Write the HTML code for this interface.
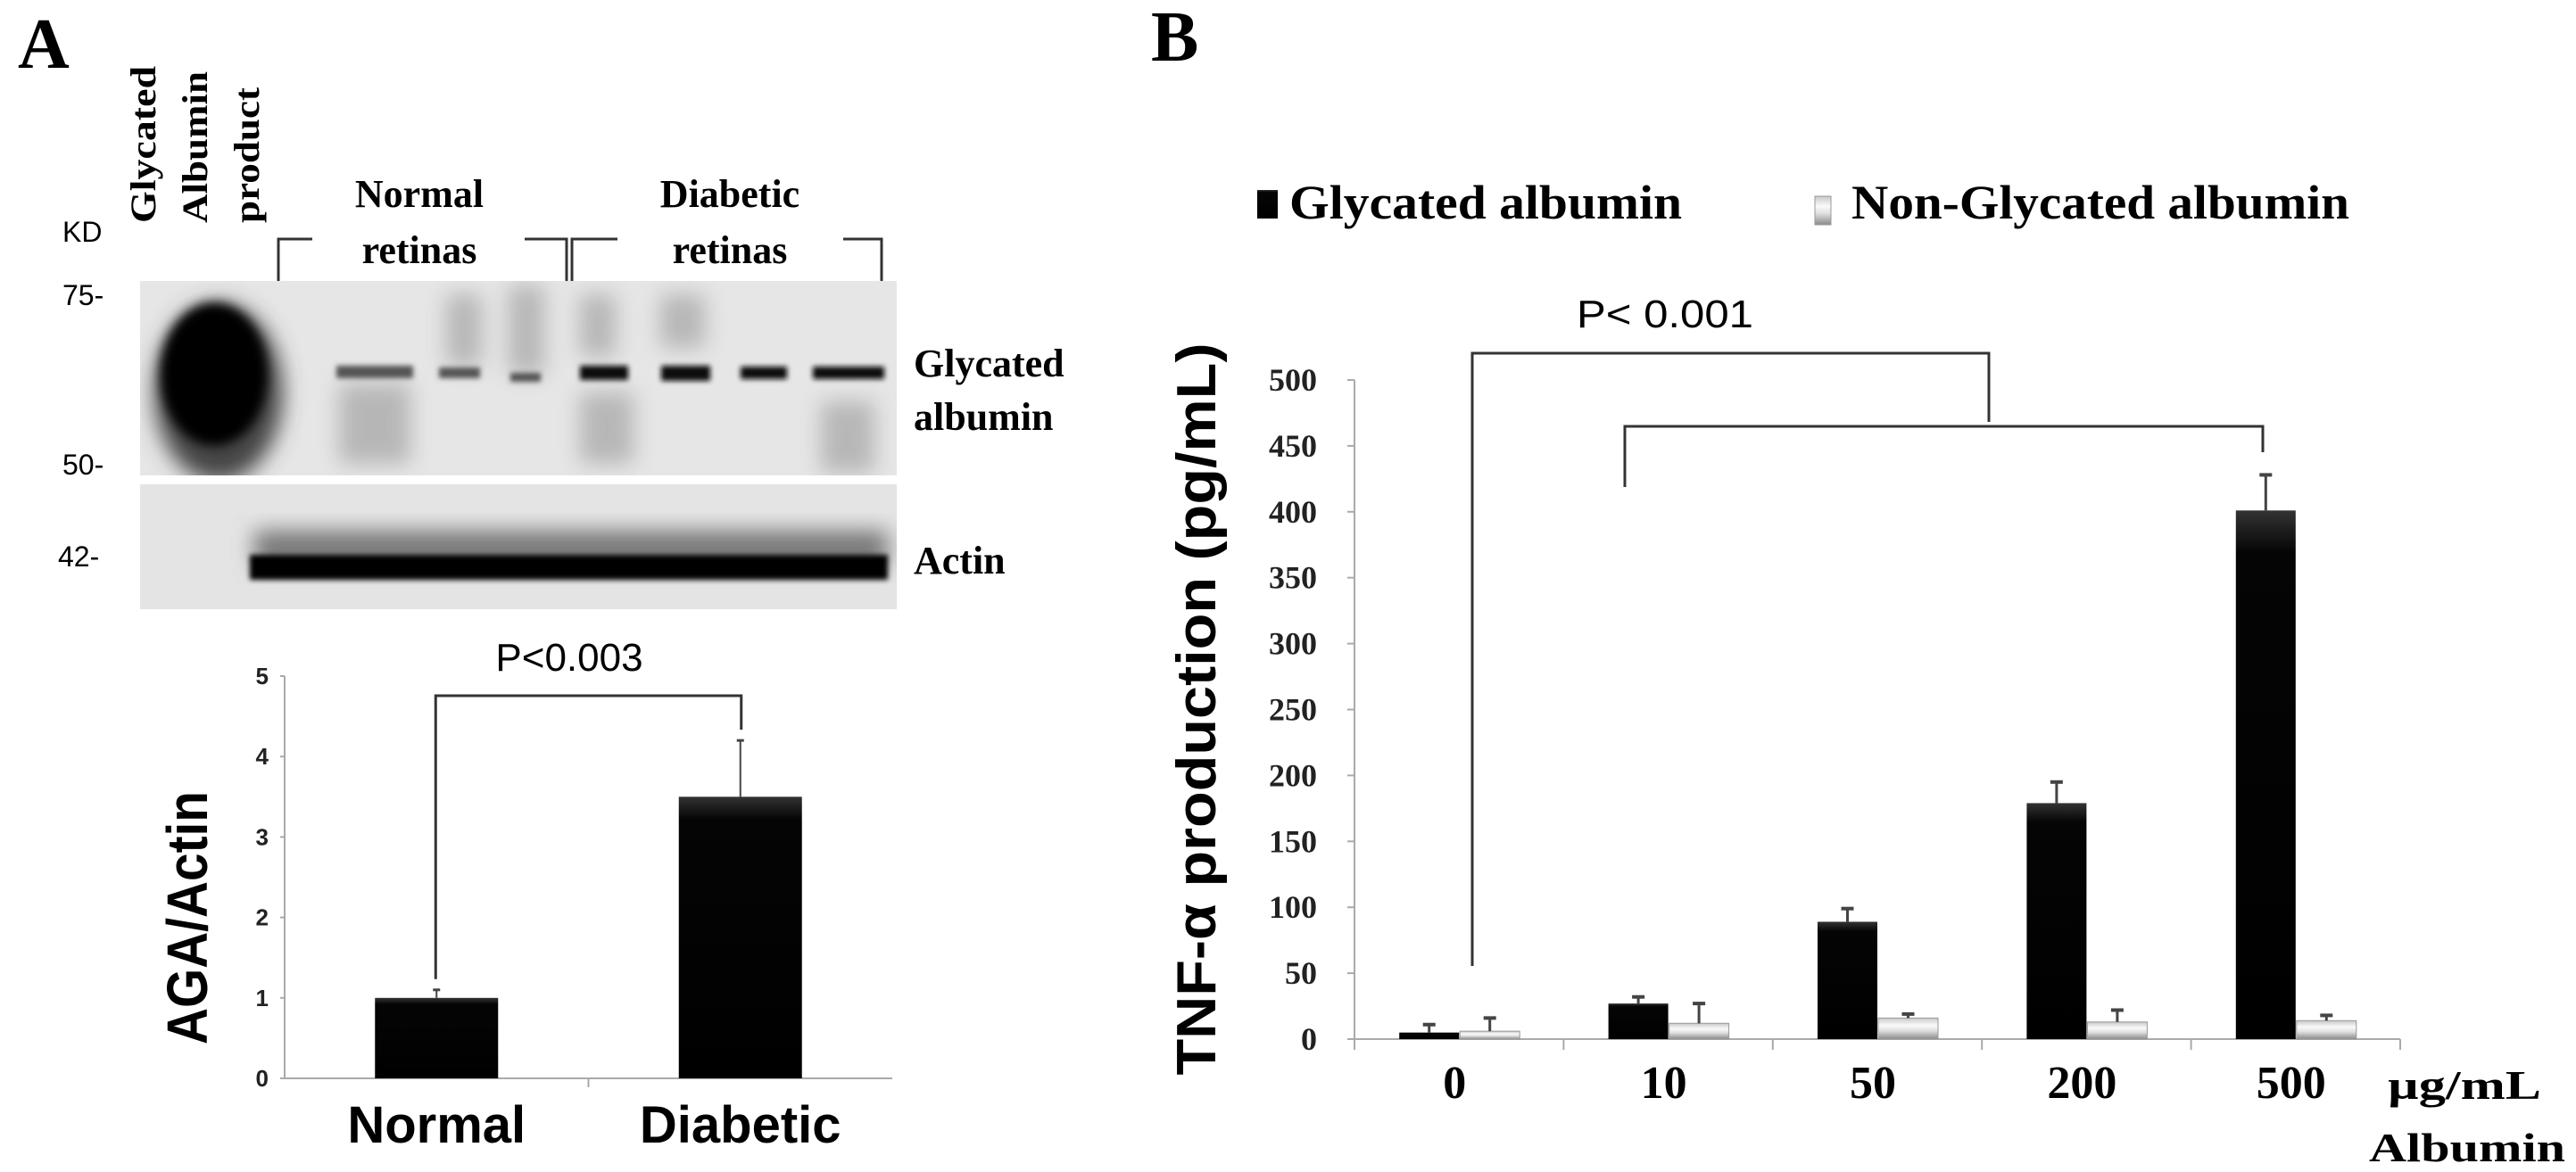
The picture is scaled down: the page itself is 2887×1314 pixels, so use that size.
<!DOCTYPE html>
<html><head><meta charset="utf-8"><style>
html,body{margin:0;padding:0;background:#fff;}
svg{display:block;}
</style></head><body>
<svg id="fig" width="2887" height="1314" viewBox="0 0 2887 1314" xmlns="http://www.w3.org/2000/svg">
<defs>
<filter id="b6" x="-50%" y="-50%" width="200%" height="200%"><feGaussianBlur stdDeviation="6"/></filter>
<filter id="b12" x="-50%" y="-50%" width="200%" height="200%"><feGaussianBlur stdDeviation="12"/></filter>
<filter id="b3" x="-50%" y="-50%" width="200%" height="200%"><feGaussianBlur stdDeviation="3"/></filter>
<linearGradient id="blk" x1="0" y1="0" x2="0" y2="1"><stop offset="0" stop-color="#333"/><stop offset="0.08" stop-color="#050505"/><stop offset="1" stop-color="#000"/></linearGradient>
<linearGradient id="wht" x1="0" y1="0" x2="0" y2="1"><stop offset="0" stop-color="#c8c8c8"/><stop offset="0.35" stop-color="#fafafa"/><stop offset="0.6" stop-color="#e0e0e0"/><stop offset="1" stop-color="#8a8a8a"/></linearGradient>
<clipPath id="gelclip"><rect x="157" y="315" width="848" height="218"/></clipPath>
<clipPath id="actclip"><rect x="157" y="543" width="848" height="140"/></clipPath>
</defs>

<!-- Panel A labels -->
<text x="20" y="76" font-family="Liberation Serif, serif" font-weight="bold" font-size="80">A</text>
<g font-family="Liberation Serif, serif" font-weight="bold" font-size="40">
<text transform="translate(174,250) rotate(-90)" textLength="176" lengthAdjust="spacingAndGlyphs">Glycated</text>
<text transform="translate(232,250) rotate(-90)" textLength="170" lengthAdjust="spacingAndGlyphs">Albumin</text>
<text transform="translate(290,250) rotate(-90)" textLength="152" lengthAdjust="spacingAndGlyphs">product</text>
</g>
<g font-family="Liberation Sans, sans-serif" font-size="32">
<text x="70" y="271">KD</text>
<text x="70" y="342">75-</text>
<text x="70" y="532">50-</text>
<text x="65" y="635">42-</text>
</g>
<g font-family="Liberation Serif, serif" font-weight="bold" font-size="44" text-anchor="middle">
<text x="470" y="232">Normal</text>
<text x="470" y="295">retinas</text>
<text x="818" y="232">Diabetic</text>
<text x="818" y="295">retinas</text>
</g>
<g fill="none" stroke="#333" stroke-width="3">
<polyline points="312,315 312,268 350,268"/>
<polyline points="588,268 635,268 635,315"/>
<polyline points="641,315 641,268 692,268"/>
<polyline points="945,268 988,268 988,315"/>
</g>
<!-- gel -->
<g>
<rect x="157" y="315" width="848" height="218" fill="#e6e6e6"/>
<g clip-path="url(#gelclip)">
<ellipse cx="245" cy="440" rx="72" ry="100" fill="#444" filter="url(#b12)"/>
<ellipse cx="240" cy="420" rx="60" ry="80" fill="#000" filter="url(#b6)"/>
<g fill="#888" opacity="0.5" filter="url(#b12)">
<rect x="380" y="430" width="80" height="90"/><rect x="500" y="330" width="40" height="80"/><rect x="570" y="320" width="40" height="100"/>
<rect x="650" y="330" width="40" height="70"/><rect x="650" y="440" width="60" height="80"/><rect x="740" y="330" width="50" height="60"/><rect x="920" y="450" width="60" height="80"/>
</g>
<g fill="#111" filter="url(#b3)">
<rect x="650" y="410" width="54" height="16"/><rect x="741" y="410" width="55" height="17"/><rect x="830" y="411" width="52" height="14"/><rect x="911" y="411" width="80" height="14"/>
</g>
<g fill="#555" filter="url(#b3)">
<rect x="377" y="410" width="86" height="14"/><rect x="492" y="412" width="46" height="12"/><rect x="572" y="418" width="34" height="10"/>
</g>
</g>
</g>
<g>
<rect x="157" y="543" width="848" height="140" fill="#e4e4e4"/>
<g clip-path="url(#actclip)">
<rect x="285" y="595" width="710" height="40" fill="#777" filter="url(#b12)"/>
<rect x="280" y="622" width="715" height="28" fill="#000" filter="url(#b3)"/>
</g>
</g>
<g font-family="Liberation Serif, serif" font-weight="bold" font-size="44">
<text x="1024" y="422">Glycated</text>
<text x="1024" y="482">albumin</text>
<text x="1024" y="643">Actin</text>
</g>

<g id="chartA"></g>
<g id="chartB"></g>
</svg>
<script>
var NS='http://www.w3.org/2000/svg';
// Chart A data
var aCategories=['Normal','Diabetic'];
var aValues=[1.0,3.5];
var aErrors=[0.1,0.7];
var aTicks=[0,1,2,3,4,5];
// Chart B data
var bCategories=['0','10','50','200','500'];
var bGlycated=[5,27,89,179,401];
var bGlycatedErr=[6,5,10,16,27];
var bNonGlycated=[6,12,16,13,14];
var bNonGlycatedErr=[10,15,3,9,4];
var bTicks=[0,50,100,150,200,250,300,350,400,450,500];

function mk(tag,attrs,parent,txt){var e=document.createElementNS(NS,tag);for(var k in attrs)e.setAttribute(k,attrs[k]);if(txt!==undefined)e.textContent=txt;parent.appendChild(e);return e;}

// ---- Chart A
(function(){
var g=document.getElementById('chartA');
var x0=319,x1=1000,y0=1209,yTop=758,ymax=5;
function ay(v){return y0-(v/ymax)*(y0-yTop);}
var cw=(x1-x0)/aCategories.length;
function ax(i){return x0+cw*(i+0.5);}
var axl=mk('line',{x1:x0,y1:yTop,x2:x0,y2:y0,stroke:'#aaa','stroke-width':2},g);


var xl=mk('line',{x1:x0-4,y1:y0,x2:x1,y2:y0,stroke:'#aaa','stroke-width':2},g);


mk('line',{x1:x0+cw,y1:y0,x2:x0+cw,y2:y0+10,stroke:'#aaa','stroke-width':2},g);
aTicks.forEach(function(t){
 mk('line',{x1:x0-5,y1:ay(t),x2:x0,y2:ay(t),stroke:'#aaa','stroke-width':2},g);
 var tx=mk('text',{x:x0-18,y:ay(t)+9,'text-anchor':'end','font-family':'Liberation Sans, sans-serif','font-weight':'bold','font-size':26,fill:'#222'},g,String(t));
 
 
});
var bw=138;
aCategories.forEach(function(c,i){
 var cx=ax(i)-(i===0?0:0);
 var r=mk('rect',{x:cx-bw/2,y:ay(aValues[i]),width:bw,height:y0-ay(aValues[i]),fill:'url(#blk)'},g);
 
 
 var top=ay(aValues[i]+aErrors[i]);
 var e=mk('line',{x1:cx,y1:ay(aValues[i]),x2:cx,y2:top,stroke:'#444','stroke-width':2},g);
 
 
 mk('line',{x1:cx-4,y1:top,x2:cx+4,y2:top,stroke:'#444','stroke-width':3},g);
 var lb=mk('text',{x:cx,y:1281,'text-anchor':'middle','font-family':'Liberation Sans, sans-serif','font-weight':'bold','font-size':58},g,c);
 
 
});
// significance bracket
var lx=ax(0)-1, rx=ax(1)+1, by=780;
var br=mk('polyline',{points:lx+','+(ay(aValues[0]+aErrors[0])-12)+' '+lx+','+by+' '+rx+','+by+' '+rx+','+(ay(aValues[1]+aErrors[1])-12),fill:'none',stroke:'#333','stroke-width':3},g);


var pt=mk('text',{x:638,y:752,'text-anchor':'middle','font-family':'Liberation Sans, sans-serif','font-size':44},g,'P<0.003');


var yt=mk('text',{transform:'translate(232,1029) rotate(-90)','text-anchor':'middle','font-family':'Liberation Sans, sans-serif','font-weight':'bold','font-size':64,textLength:284,lengthAdjust:'spacingAndGlyphs'},g,'AGA/Actin');


})();

// ---- Chart B
(function(){
var g=document.getElementById('chartB');
var x0=1518,x1=2690,y0=1165,yTop=426,ymax=500;
function by(v){return y0-(v/ymax)*(y0-yTop);}
var cw=(x1-x0)/bCategories.length;
function bx(i){return x0+cw*(i+0.5);}
var yl=mk('line',{x1:x0,y1:yTop,x2:x0,y2:y0,stroke:'#aaa','stroke-width':2},g);


var xl=mk('line',{x1:x0-8,y1:y0,x2:x1,y2:y0,stroke:'#aaa','stroke-width':2},g);


for(var k=0;k<=bCategories.length;k++){mk('line',{x1:x0+cw*k,y1:y0,x2:x0+cw*k,y2:y0+12,stroke:'#aaa','stroke-width':2},g);}
bTicks.forEach(function(t){
 mk('line',{x1:x0-8,y1:by(t),x2:x0,y2:by(t),stroke:'#aaa','stroke-width':2},g);
 var tx=mk('text',{x:1476,y:by(t)+12,'text-anchor':'end','font-family':'Liberation Serif, serif','font-weight':'bold','font-size':36,fill:'#222'},g,String(t));
 
 
});
var bw=67;
bCategories.forEach(function(c,i){
 var cx=bx(i);
 var r1=mk('rect',{x:cx-bw,y:by(bGlycated[i]),width:bw,height:y0-by(bGlycated[i]),fill:'url(#blk)'},g);
 
 
 var r2=mk('rect',{x:cx+1,y:by(bNonGlycated[i]),width:bw,height:y0-by(bNonGlycated[i]),fill:'url(#wht)',stroke:'#999','stroke-width':1},g);
 
 
 [[cx-bw/2,bGlycated[i],bGlycatedErr[i]],[cx+1+bw/2,bNonGlycated[i],bNonGlycatedErr[i]]].forEach(function(d){
  var t=by(d[1]+d[2]);
  var e=mk('line',{x1:d[0],y1:by(d[1]),x2:d[0],y2:t,stroke:'#444','stroke-width':3},g);
  
  
  mk('line',{x1:d[0]-7,y1:t,x2:d[0]+7,y2:t,stroke:'#444','stroke-width':4},g);
 });
 var lb=mk('text',{x:cx-5,y:1231,'text-anchor':'middle','font-family':'Liberation Serif, serif','font-weight':'bold','font-size':52},g,c);
 
 
});
var u=mk('text',{x:2676,y:1232,'font-family':'Liberation Serif, serif','font-weight':'bold','font-size':46,textLength:172,lengthAdjust:'spacingAndGlyphs'},g,'µg/mL');


var u2=mk('text',{x:2655,y:1302,'font-family':'Liberation Serif, serif','font-weight':'bold','font-size':46,textLength:220,lengthAdjust:'spacingAndGlyphs'},g,'Albumin');


// brackets
var b1=mk('polyline',{points:'1650,1083 1650,396 2229,396 2229,473',fill:'none',stroke:'#333','stroke-width':3},g);


var b2=mk('polyline',{points:'1821,546 1821,478 2536,478 2536,507',fill:'none',stroke:'#333','stroke-width':3},g);


var pt=mk('text',{x:1866,y:367,'text-anchor':'middle','font-family':'Liberation Sans, sans-serif','font-size':44,textLength:198,lengthAdjust:'spacingAndGlyphs'},g,'P< 0.001');


var yt=mk('text',{transform:'translate(1362,795) rotate(-90)','text-anchor':'middle','font-family':'Liberation Sans, sans-serif','font-weight':'bold','font-size':62,textLength:821,lengthAdjust:'spacingAndGlyphs'},g,'TNF-α production (pg/mL)');


// panel label & legend
var pb=mk('text',{x:1290,y:68,'font-family':'Liberation Serif, serif','font-weight':'bold','font-size':80},g,'B');


var s1=mk('rect',{x:1409,y:213,width:23,height:32,fill:'url(#blk)'},g);


var l1=mk('text',{x:1445,y:245,'font-family':'Liberation Serif, serif','font-weight':'bold','font-size':54,textLength:440,lengthAdjust:'spacingAndGlyphs'},g,'Glycated albumin');


var s2=mk('rect',{x:2034,y:220,width:18,height:32,fill:'url(#wht)',stroke:'#999','stroke-width':1},g);


var l2=mk('text',{x:2075,y:245,'font-family':'Liberation Serif, serif','font-weight':'bold','font-size':54,textLength:558,lengthAdjust:'spacingAndGlyphs'},g,'Non-Glycated albumin');


})();
</script>
</body></html>
